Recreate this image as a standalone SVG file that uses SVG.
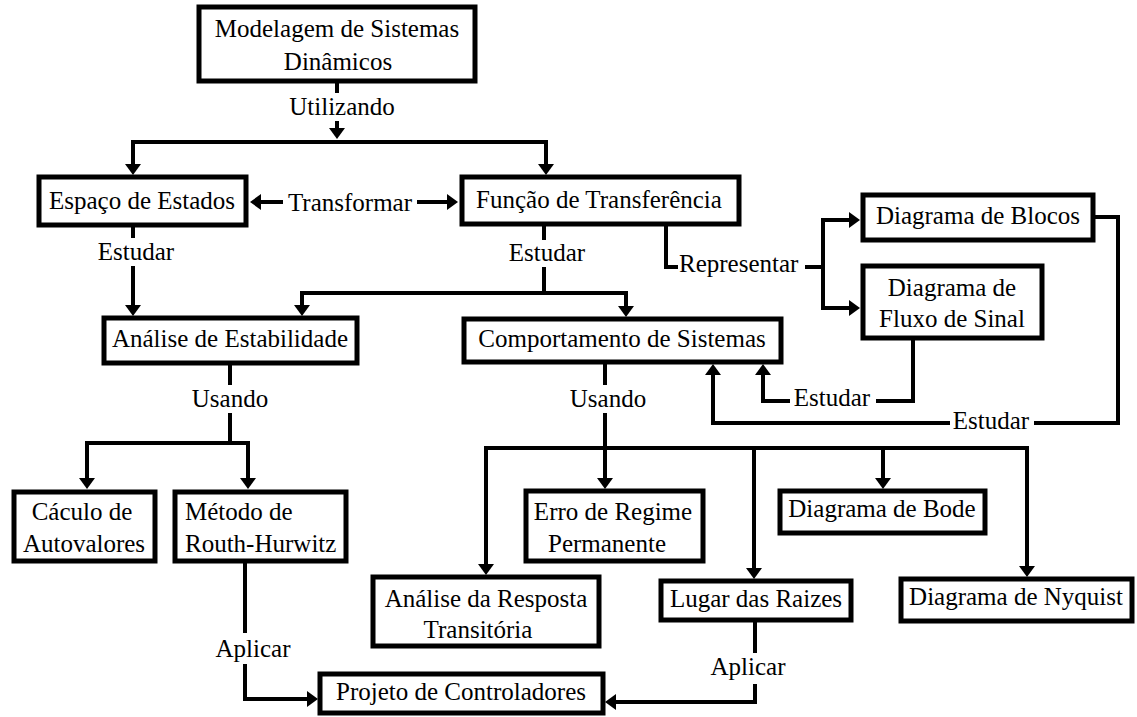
<svg xmlns="http://www.w3.org/2000/svg" width="1137" height="717" viewBox="0 0 1137 717" font-family="Liberation Serif, Tinos, DejaVu Serif, serif">
<defs>
<marker id="ah" markerUnits="userSpaceOnUse" markerWidth="12" markerHeight="16" refX="0" refY="8" orient="auto" overflow="visible">
<path d="M0,0 L11,8 L0,16 Z" fill="#000"/>
</marker>
<style>
.box{fill:#fff;stroke:#000;stroke-width:5}
.ln{fill:none;stroke:#000;stroke-width:4}
.ar{marker-end:url(#ah)}
text{font-family:'Liberation Serif',Tinos,'DejaVu Serif',serif;font-size:25px;fill:#000;text-anchor:middle}
.st{text-anchor:start}
</style>
</defs>
<rect width="1137" height="717" fill="#fff"/>
<g id="connectors">
<path class="ln" d="M337,83 V93"/>
<path class="ln ar" d="M337,121 V128"/>
<path class="ln ar" d="M337,142 H133 V164"/>
<path class="ln ar" d="M337,142 H546 V164"/>
<path class="ln ar" d="M283,202 H261"/>
<path class="ln ar" d="M417,202 H447"/>
<path class="ln" d="M133,227 V238"/>
<path class="ln ar" d="M133,266 V305"/>
<path class="ln" d="M544,226 V240"/>
<path class="ln" d="M544,267 V293"/>
<path class="ln ar" d="M544,293 H302 V305"/>
<path class="ln ar" d="M544,293 H626 V306"/>
<path class="ln" d="M666,226 V267 H678"/>
<path class="ln" d="M805,267 H823"/>
<path class="ln ar" d="M823,267 V220 H849"/>
<path class="ln ar" d="M823,267 V308 H849"/>
<path class="ln" d="M1095,217 H1118 V423 H1034"/>
<path class="ln ar" d="M950,423 H713 V375"/>
<path class="ln" d="M913,340 V401 H876"/>
<path class="ln ar" d="M790,401 H763 V375"/>
<path class="ln" d="M230,365 V385"/>
<path class="ln" d="M230,413 V443"/>
<path class="ln ar" d="M230,443 H87 V478"/>
<path class="ln ar" d="M230,443 H248 V478"/>
<path class="ln" d="M605,364 V385"/>
<path class="ln" d="M605,413 V448"/>
<path class="ln ar" d="M605,448 H486 V564"/>
<path class="ln ar" d="M605,448 V478"/>
<path class="ln ar" d="M605,448 H1027 V566"/>
<path class="ln ar" d="M754,448 V568"/>
<path class="ln ar" d="M883,448 V478"/>
<path class="ln" d="M245,563 V633"/>
<path class="ln ar" d="M245,664 V699 H307"/>
<path class="ln" d="M755,622 V653"/>
<path class="ln ar" d="M755,684 V702 H616"/>
</g>
<g id="labels">
<text x="342" y="115">Utilizando</text>
<text x="350" y="211">Transformar</text>
<text x="136" y="260">Estudar</text>
<text x="547" y="261">Estudar</text>
<text class="st" x="679" y="272">Representar</text>
<text x="832" y="406">Estudar</text>
<text x="991" y="429">Estudar</text>
<text x="230" y="407">Usando</text>
<text x="608" y="407">Usando</text>
<text x="253" y="657">Aplicar</text>
<text x="748" y="675">Aplicar</text>
</g>
<g id="n-modelagem"><rect class="box" x="199" y="7" width="276" height="74"/><text x="337" y="37">Modelagem de Sistemas</text><text x="338" y="70">Dinâmicos</text></g>
<g id="n-espaco"><rect class="box" x="39" y="177" width="207" height="48"/><text x="142" y="209">Espaço de Estados</text></g>
<g id="n-funcao"><rect class="box" x="462" y="177" width="277" height="47"/><text x="599" y="208">Função de Transferência</text></g>
<g id="n-blocos"><rect class="box" x="863" y="195" width="230" height="45"/><text x="978" y="224">Diagrama de Blocos</text></g>
<g id="n-fluxo"><rect class="box" x="863" y="266" width="179" height="72"/><text x="952" y="296">Diagrama de</text><text x="952" y="327">Fluxo de Sinal</text></g>
<g id="n-estabilidade"><rect class="box" x="104" y="318" width="253" height="45"/><text x="230" y="347">Análise de Estabilidade</text></g>
<g id="n-comportamento"><rect class="box" x="464" y="319" width="317" height="43"/><text x="622" y="347">Comportamento de Sistemas</text></g>
<g id="n-caculo"><rect class="box" x="14" y="492" width="141" height="69"/><text x="82" y="520">Cáculo de</text><text x="84" y="552">Autovalores</text></g>
<g id="n-metodo"><rect class="box" x="175" y="492" width="171" height="69"/><text class="st" x="185" y="520">Método de</text><text class="st" x="185" y="552">Routh-Hurwitz</text></g>
<g id="n-erro"><rect class="box" x="526" y="491" width="177" height="70"/><text x="613" y="520">Erro de Regime</text><text x="607" y="552">Permanente</text></g>
<g id="n-bode"><rect class="box" x="780" y="491" width="205" height="42"/><text x="882" y="517">Diagrama de Bode</text></g>
<g id="n-resposta"><rect class="box" x="373" y="577" width="226" height="69"/><text x="486" y="607">Análise da Resposta</text><text x="478" y="638">Transitória</text></g>
<g id="n-lugar"><rect class="box" x="661" y="581" width="190" height="39"/><text x="756" y="607">Lugar das Raizes</text></g>
<g id="n-nyquist"><rect class="box" x="901" y="579" width="231" height="42"/><text x="1016" y="605">Diagrama de Nyquist</text></g>
<g id="n-projeto"><rect class="box" x="320" y="674" width="283" height="39"/><text x="461" y="700">Projeto de Controladores</text></g>
</svg>
